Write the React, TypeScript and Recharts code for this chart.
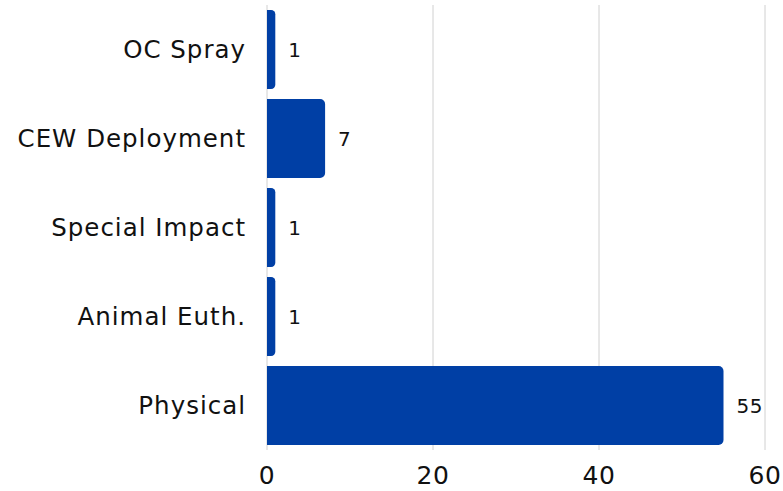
import React from 'react';
import { BarChart, Bar, XAxis, YAxis, CartesianGrid, LabelList } from 'recharts';

const categories = ['OC Spray', 'CEW Deployment', 'Special Impact', 'Animal Euth.', 'Physical'];
const counts = [1, 7, 1, 1, 55];
const xTicks = [0, 20, 40, 60];

const data = categories.map((name, i) => ({ name, count: counts[i] }));

const FONT = '"DejaVu Sans", sans-serif';

export default function App() {
  return (
    <div style={{ position: 'absolute', left: 0, top: 0, background: '#fff' }}>
      <BarChart
        width={783}
        height={491}
        data={data}
        layout="vertical"
        margin={{ top: 5, right: 18, left: 0, bottom: 0 }}
        barCategoryGap={5}
      >
        <CartesianGrid horizontal={false} stroke="#d0d0d0" />
        <XAxis
          type="number"
          domain={[0, 60]}
          ticks={xTicks}
          axisLine={false}
          tickLine={false}
          height={41}
          tickMargin={10}
          tick={{ fill: '#111', fontSize: 25, fontFamily: FONT, letterSpacing: 0.5 }}
        />
        <YAxis
          type="category"
          dataKey="name"
          width={267}
          axisLine={false}
          tickLine={false}
          tickMargin={15}
          tick={{ fill: '#111', fontSize: 24.5, fontFamily: FONT, letterSpacing: 1 }}
        />
        <Bar dataKey="count" fill="#003FA5" radius={[0, 5, 5, 0]} isAnimationActive={false}>
          <LabelList
            dataKey="count"
            position="right"
            offset={13}
            style={{ fill: '#111', fontSize: 20, fontFamily: FONT, letterSpacing: 0.5 }}
          />
        </Bar>
      </BarChart>
    </div>
  );
}
